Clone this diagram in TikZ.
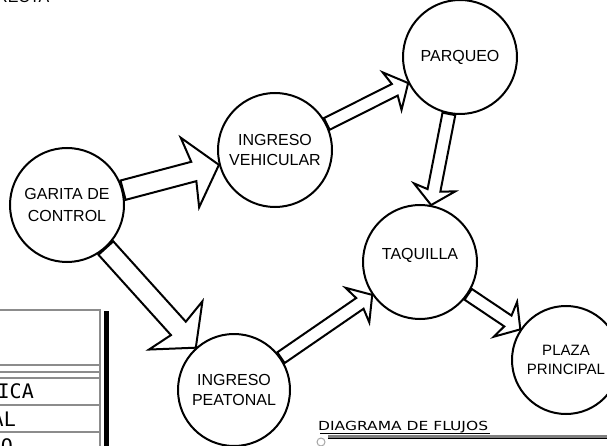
\documentclass[tikz,border=0pt]{standalone}
\usepackage{fontspec}
\setmainfont{Liberation Sans}
\newfontfamily\tablafont{DejaVu Sans Mono}
\newfontfamily\titulofont{DejaVu Sans}
\usetikzlibrary{calc}
\tikzset{
	zona/.style   ={circle, draw=black, line width=2pt, minimum size=114pt, inner sep=0pt, align=center, font=\fontsize{16}{20.5}\selectfont},
	flecha/.style ={draw=black, line width=2pt, line join=miter},
	rejilla/.style={draw=black!45, line width=1.3pt},
}
% flecha de bloque: origen, destino, cuerpo, punta, cuello, aletas
\newcommand{\bloque}[6]{%
	\path (#1) -- coordinate[pos=0] (fi) coordinate[pos=1] (ff) (#2);
	\draw[flecha] ($(fi)!#3!90:(ff)$) -- ($(ff)!#5!(fi)!#3!90:(ff)$) -- ($(ff)!#6!(fi)!#4!90:(ff)$) -- (ff)
		-- ($(ff)!#6!(fi)!#4!-90:(ff)$) -- ($(ff)!#5!(fi)!#3!-90:(ff)$) -- ($(fi)!#3!-90:(ff)$) -- cycle;
}

\begin{document}
\begin{tikzpicture}[x=1pt, y=-1pt]
	\useasboundingbox (0,0) rectangle (607,446);
	\clip (0,0) rectangle (607,446);
	% zonas
	\node[zona] (garita) at (67,205) {GARITA DE\\[2pt]CONTROL};
	\node[zona] (vehicular) at (275,150) {INGRESO\\VEHICULAR};
	\node[zona] (parqueo) at (460,57) {PARQUEO};
	\node[zona, text depth=16pt] (taquilla) at (420,262) {TAQUILLA};
	\node[zona, minimum size=108pt, font=\fontsize{15}{19.5}\selectfont] (plaza) at (566,360) {PLAZA\\PRINCIPAL};
	\node[zona, minimum size=112pt] (peatonal) at (234,390) {INGRESO\\PEATONAL};
	% flujos
	\bloque{garita}{vehicular}{10pt}{36pt}{26pt}{30pt}
	\bloque{garita}{peatonal}{10pt}{36pt}{26pt}{30pt}
	\bloque{vehicular}{parqueo}{6.5pt}{21pt}{15pt}{18pt}
	\bloque{parqueo}{taquilla}{6.5pt}{21pt}{15pt}{18pt}
	\bloque{peatonal}{taquilla}{6.5pt}{21pt}{15pt}{18pt}
	\bloque{taquilla}{plaza}{6.5pt}{21pt}{15pt}{18pt}
	% restos del plano
	\node[anchor=base west, inner sep=0pt, font=\fontsize{16}{16}\selectfont] (cabecera) at (-4,3) {RECTA};
	\draw[rejilla] (-2,310) -- (100,310) -- (100,450);
	\foreach \yy in {365,372,378,405,432}
		\draw[rejilla] (-2,\yy) -- (100,\yy);
	\fill (104,311) rectangle (109,450);
	\node[anchor=base east, inner sep=0pt, font=\tablafont\fontsize{20}{20}\selectfont] (celda1) at (34,398) {ICA};
	\node[anchor=base east, inner sep=0pt, font=\tablafont\fontsize{20}{20}\selectfont] (celda2) at (16,426) {AL};
	\node[anchor=base east, inner sep=0pt, font=\tablafont\fontsize{20}{20}\selectfont] (celda3) at (13,453) {O};
	\node[anchor=base west, inner sep=0pt, font=\titulofont\fontsize{12.5}{13}\selectfont] (titulo) at (318,430) {\scalebox{1.24}[1]{DIAGRAMA DE FLUJOS}};
	\draw[line width=0.8pt] (320,433) -- (490,433);
	\draw[black!50, line width=2.2pt] (328,436.5) -- (610,436.5);
	\draw[line width=0.8pt] (328,438.8) -- (610,438.8);
	\draw[black!35, line width=1pt] (321,442) circle (4);
\end{tikzpicture}
\end{document}
